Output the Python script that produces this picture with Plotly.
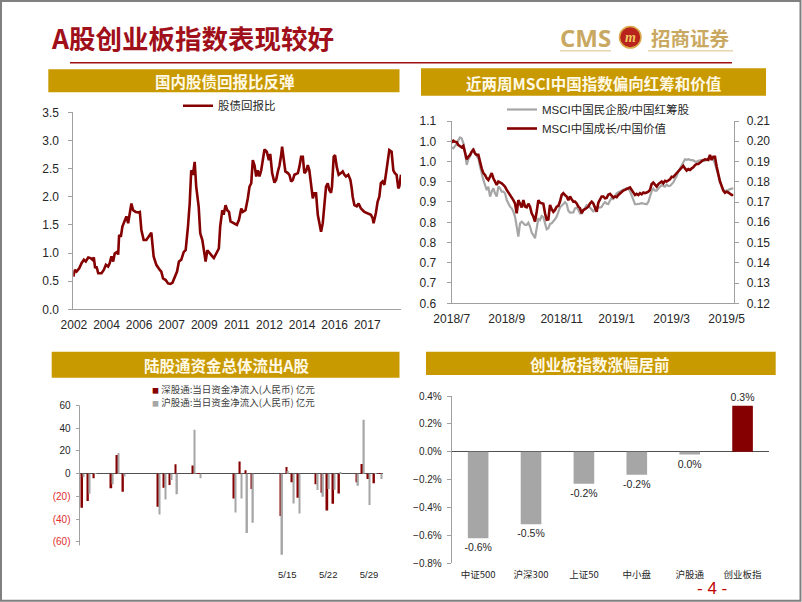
import plotly.graph_objects as go

W, H = 802, 602
def fx(p): return p / W
def fy(p): return 1 - p / H

# ---------------- Chart 1: 股债回报比 ----------------
years1 = [2002.57, 2002.65, 2002.74, 2002.88, 2003.00, 2003.12, 2003.22, 2003.35, 2003.47, 2003.57,
          2003.64, 2003.71, 2003.78, 2003.87, 2004.04, 2004.16, 2004.27, 2004.39, 2004.47, 2004.56,
          2004.65, 2004.73, 2004.86, 2004.91, 2004.96, 2005.05, 2005.13, 2005.25, 2005.34, 2005.43,
          2005.51, 2005.60, 2005.69, 2005.83, 2005.95, 2006.04, 2006.12, 2006.24, 2006.38, 2006.52,
          2006.64, 2006.76, 2006.90, 2007.08, 2007.16, 2007.25, 2007.39, 2007.51, 2007.63, 2007.74,
          2007.81, 2007.91, 2007.98, 2008.08, 2008.20, 2008.33, 2008.43, 2008.55, 2008.64, 2008.72,
          2008.81, 2008.90, 2008.98, 2009.11, 2009.19, 2009.30, 2009.38, 2009.47, 2009.56, 2009.68,
          2009.82, 2009.90, 2010.03, 2010.16, 2010.23, 2010.34, 2010.41, 2010.51, 2010.60, 2010.69,
          2010.77, 2010.93, 2011.10, 2011.21, 2011.33, 2011.41, 2011.55, 2011.67, 2011.76, 2011.85,
          2011.93, 2012.02, 2012.11, 2012.19, 2012.28, 2012.37, 2012.45, 2012.54, 2012.66, 2012.77,
          2012.84, 2012.94, 2013.06, 2013.15, 2013.24, 2013.32, 2013.41, 2013.46, 2013.55, 2013.63,
          2013.76, 2013.84, 2013.93, 2014.02, 2014.10, 2014.28, 2014.36, 2014.45, 2014.54, 2014.62,
          2014.71, 2014.80, 2014.88, 2014.97, 2015.06, 2015.14, 2015.23, 2015.32, 2015.40, 2015.49,
          2015.58, 2015.66, 2015.75, 2015.84, 2015.92, 2016.01, 2016.06, 2016.15, 2016.22, 2016.31,
          2016.41, 2016.53, 2016.62, 2016.71, 2016.79, 2016.91, 2017.02, 2017.09, 2017.14, 2017.23,
          2017.35, 2017.45, 2017.57, 2017.75, 2017.92, 2018.09, 2018.18, 2018.23, 2018.35, 2018.44,
          2018.53, 2018.61, 2018.70, 2018.79, 2018.87, 2018.96, 2019.05, 2019.17, 2019.26, 2019.34,
          2019.43, 2019.52, 2019.57, 2019.66]
ratio1 = [0.58, 0.70, 0.67, 0.73, 0.82, 0.88, 0.85, 0.92, 0.91, 0.88,
          0.92, 0.73, 0.76, 0.64, 0.64, 0.70, 0.79, 0.76, 0.82, 0.94,
          0.85, 0.99, 1.02, 0.97, 1.32, 1.29, 1.47, 1.59, 1.65, 1.53,
          1.73, 1.88, 1.76, 1.73, 1.72, 1.73, 1.41, 1.23, 1.23, 1.29,
          1.36, 0.94, 0.79, 0.70, 0.67, 0.55, 0.52, 0.46, 0.45, 0.47,
          0.53, 0.61, 0.67, 0.85, 0.88, 1.02, 1.05, 1.47, 1.88, 2.47,
          2.39, 2.62, 2.18, 1.82, 1.35, 1.23, 1.05, 0.85, 1.05, 0.99,
          0.94, 0.91, 0.99, 1.08, 1.47, 1.76, 1.68, 1.85, 1.76, 1.73,
          1.56, 1.53, 1.50, 1.59, 1.79, 1.73, 1.76, 1.97, 2.18, 2.24,
          2.65, 2.56, 2.36, 2.47, 2.36, 2.47, 2.62, 2.84, 2.80, 2.65,
          2.76, 2.42, 2.25, 2.30, 2.45, 2.55, 2.74, 2.89, 2.65, 2.45,
          2.42, 2.39, 2.27, 2.30, 2.39, 2.42, 2.53, 2.71, 2.71, 2.42,
          2.45, 2.56, 2.47, 2.24, 1.97, 2.06, 2.06, 1.68, 1.50, 1.38,
          1.53, 1.82, 2.18, 2.24, 2.12, 2.07, 2.18, 2.71, 2.74, 2.53,
          2.39, 2.42, 2.45, 2.39, 2.36, 2.39, 2.30, 2.15, 2.00, 1.85,
          1.83, 1.88, 1.79, 1.73, 1.71, 1.68, 1.62, 1.53, 1.71, 1.91,
          2.00, 2.24, 2.27, 2.21, 2.39, 2.62, 2.83, 2.80, 2.47, 2.42,
          2.39, 2.15, 2.18, 2.39]
ticks1_pos = [2002.6, 2004.3, 2006.0, 2007.7, 2009.4, 2011.1, 2012.8, 2014.5, 2016.2, 2017.9]
ticks1_text = ["2002", "2004", "2006", "2007", "2009", "2011", "2012", "2014", "2016", "2017"]

# ---------------- Chart 2: MSCI ratios ----------------
red2 = [1.041, 1.046, 1.043, 1.042, 1.034, 1.032, 1.028, 1.032, 1.016, 0.995,
        1.002, 1.007, 1.016, 1.021, 1.011, 1.007, 1.007, 0.984, 0.970, 0.957,
        0.952, 0.943, 0.938, 0.947, 0.957, 0.943, 0.934, 0.925, 0.934, 0.932,
        0.929, 0.925, 0.920, 0.911, 0.904, 0.899, 0.893, 0.883, 0.874, 0.847,
        0.883, 0.870, 0.863, 0.883, 0.865, 0.863, 0.873, 0.865, 0.847, 0.838,
        0.824, 0.851, 0.883, 0.876, 0.874, 0.873, 0.847, 0.829, 0.830, 0.870,
        0.858, 0.851, 0.856, 0.865, 0.867, 0.879, 0.897, 0.902, 0.897, 0.893,
        0.883, 0.893, 0.885, 0.879, 0.879, 0.874, 0.865, 0.861, 0.847, 0.856,
        0.858, 0.861, 0.865, 0.874, 0.879, 0.874, 0.861, 0.851, 0.876, 0.885,
        0.893, 0.893, 0.888, 0.889, 0.898, 0.900, 0.894, 0.890, 0.893, 0.891,
        0.897, 0.902, 0.905, 0.909, 0.911, 0.913, 0.915, 0.918, 0.911, 0.902,
        0.897, 0.900, 0.897, 0.902, 0.899, 0.904, 0.902, 0.904, 0.906, 0.911,
        0.927, 0.931, 0.925, 0.920, 0.927, 0.931, 0.934, 0.929, 0.936, 0.934,
        0.936, 0.940, 0.947, 0.946, 0.952, 0.957, 0.961, 0.968, 0.973, 0.977,
        0.970, 0.964, 0.968, 0.966, 0.970, 0.973, 0.979, 0.982, 0.982, 0.986,
        0.989, 0.993, 0.995, 0.993, 0.993, 1.007, 0.993, 1.002, 1.002, 0.975,
        0.952, 0.934, 0.922, 0.909, 0.903, 0.906, 0.904, 0.899, 0.897, 0.897]
gray2 = [0.1970, 0.1965, 0.1977, 0.1986, 0.2006, 0.2019, 0.2014, 0.1990, 0.1944, 0.1883,
         0.1911, 0.1924, 0.1949, 0.1965, 0.1940, 0.1924, 0.1916, 0.1875, 0.1834, 0.1809,
         0.1784, 0.1759, 0.1776, 0.1727, 0.1751, 0.1768, 0.1743, 0.1727, 0.1776, 0.1768,
         0.1751, 0.1751, 0.1743, 0.1710, 0.1694, 0.1677, 0.1669, 0.1653, 0.1628, 0.1587,
         0.1529, 0.1595, 0.1603, 0.1595, 0.1587, 0.1587, 0.1598, 0.1579, 0.1549, 0.1537,
         0.1521, 0.1570, 0.1620, 0.1611, 0.1631, 0.1625, 0.1587, 0.1565, 0.1570, 0.1592,
         0.1595, 0.1603, 0.1615, 0.1628, 0.1653, 0.1674, 0.1682, 0.1690, 0.1699, 0.1690,
         0.1657, 0.1648, 0.1648, 0.1649, 0.1669, 0.1672, 0.1661, 0.1644, 0.1644, 0.1656,
         0.1671, 0.1685, 0.1682, 0.1672, 0.1661, 0.1654, 0.1661, 0.1667, 0.1674, 0.1672,
         0.1676, 0.1690, 0.1700, 0.1692, 0.1690, 0.1707, 0.1720, 0.1715, 0.1727, 0.1743,
         0.1748, 0.1751, 0.1756, 0.1761, 0.1764, 0.1768, 0.1764, 0.1754, 0.1735, 0.1707,
         0.1689, 0.1689, 0.1692, 0.1692, 0.1694, 0.1692, 0.1692, 0.1689, 0.1700, 0.1730,
         0.1754, 0.1766, 0.1756, 0.1756, 0.1768, 0.1776, 0.1783, 0.1778, 0.1776, 0.1786,
         0.1779, 0.1779, 0.1787, 0.1797, 0.1812, 0.1827, 0.1850, 0.1866, 0.1881, 0.1899,
         0.1911, 0.1908, 0.1911, 0.1908, 0.1908, 0.1906, 0.1899, 0.1899, 0.1904, 0.1906,
         0.1908, 0.1903, 0.1903, 0.1909, 0.1914, 0.1922, 0.1922, 0.1912, 0.1888, 0.1861,
         0.1825, 0.1796, 0.1776, 0.1761, 0.1753, 0.1758, 0.1759, 0.1764, 0.1768, 0.1768]
idx2 = list(range(len(red2)))
ticks2_pos = [0, 33, 66, 99, 132, 165]
ticks2_text = ["2018/7", "2018/9", "2018/11", "2019/1", "2019/3", "2019/5"]
ticks2_left = [0.6, 0.656, 0.711, 0.767, 0.822, 0.878, 0.933, 0.989, 1.044, 1.1]

# ---------------- Chart 3: 陆股通 daily net flows ----------------
dates3 = ["2019-04-10", "2019-04-11", "2019-04-12", "2019-04-15", "2019-04-16", "2019-04-17",
          "2019-04-23", "2019-04-24", "2019-04-25", "2019-04-26", "2019-04-29", "2019-04-30",
          "2019-05-06", "2019-05-07", "2019-05-08", "2019-05-09", "2019-05-14", "2019-05-15",
          "2019-05-16", "2019-05-17", "2019-05-20", "2019-05-21", "2019-05-22", "2019-05-23",
          "2019-05-24", "2019-05-27", "2019-05-28", "2019-05-29", "2019-05-30", "2019-05-31"]
sz3 = [-30.0, -24.1, -4.1, -12.9, 16.5, -15.9, -29.1, -12.4, -10.0, 8.2, 7.1, 0.3,
       -21.8, 10.6, 2.9, -13.5, -37.1, 5.9, -7.6, -21.2, -9.4, -16.8, -32.4, -26.5,
       -17.4, -7.6, 8.5, -4.7, -8.5, 0.3]
sh3 = [-3.2, -17.6, 0.3, -9.4, 18.2, -2.4, -35.9, -22.6, -5.6, -18.2, 38.5, -4.1,
       -34.1, -21.8, -52.1, -43.2, -71.2, 2.4, -26.2, -35.0, -14.4, -20.3, -13.5, -14.2,
       0.9, -10.6, 47.4, -27.6, 0.3, -4.7]
ticks3_pos = ["2019-05-15", "2019-05-22", "2019-05-29"]
ticks3_text = ["5/15", "5/22", "5/29"]
yticks3 = [60, 40, 20, 0, -20, -40, -60]
yticks3_text = ["60", "40", "20", "0",
                "<span style='color:#E03030'>(20)</span>",
                "<span style='color:#E03030'>(40)</span>",
                "<span style='color:#E03030'>(60)</span>"]
name3_sz = "深股通:当日资金净流入(人民币) 亿元"
name3_sh = "沪股通:当日资金净流入(人民币) 亿元"

# ---------------- Chart 4: index returns ----------------
cats4 = ["中证500", "沪深300", "上证50", "中小盘", "沪股通", "创业板指"]
vals4 = [-0.62, -0.52, -0.23, -0.165, -0.02, 0.33]
labels4 = ["-0.6%", "-0.5%", "-0.2%", "-0.2%", "0.0%", "0.3%"]

RED = "#850000"
GRAY = "#A6A6A6"
AX = "#A0A0A0"
TXT = "#262626"
LAT = "Liberation Sans, Arial, Noto Sans CJK SC"
CJK = "Noto Sans CJK SC, Liberation Sans"
GOLD = "#C99A00"
DAY = 86400000

fig = go.Figure()
fig.add_trace(go.Scatter(x=years1, y=ratio1, mode="lines", name="股债回报比",
                         line=dict(color=RED, width=2.6), xaxis="x", yaxis="y", legend="legend"))
fig.add_trace(go.Scatter(x=idx2, y=gray2, mode="lines", name="MSCI中国民企股/中国红筹股",
                         line=dict(color=GRAY, width=2.2), xaxis="x2", yaxis="y2", legend="legend2"))
fig.add_trace(go.Scatter(x=idx2, y=red2, mode="lines", name="MSCI中国成长/中国价值",
                         line=dict(color=RED, width=2.6), xaxis="x2", yaxis="y5", legend="legend2"))
fig.add_trace(go.Bar(x=dates3, y=sz3, name=name3_sz, marker=dict(color=RED, line=dict(width=0)),
                     width=0.3 * DAY, offset=-0.3 * DAY, xaxis="x3", yaxis="y3", showlegend=False))
fig.add_trace(go.Bar(x=dates3, y=sh3, name=name3_sh, marker=dict(color=GRAY, line=dict(width=0)),
                     width=0.25 * DAY, offset=0.0, xaxis="x3", yaxis="y3", showlegend=False))
colors4 = [GRAY, GRAY, GRAY, GRAY, GRAY, RED]
fig.add_trace(go.Bar(x=cats4, y=vals4, marker=dict(color=colors4, line=dict(width=0)), width=0.39,
                     text=labels4, textposition="outside", cliponaxis=False, constraintext="none",
                     textfont=dict(family=LAT, size=10.5, color=TXT),
                     xaxis="x4", yaxis="y4", showlegend=False))

common = dict(showgrid=False, zeroline=False, tickcolor=AX, linecolor=AX, linewidth=1, automargin=False)

layout = dict(
    width=W, height=H, margin=dict(l=0, r=0, t=0, b=0, pad=0, autoexpand=False),
    paper_bgcolor="white", plot_bgcolor="rgba(0,0,0,0)",
    showlegend=True, barmode="group",
    font=dict(family=LAT, color=TXT),
    xaxis=dict(domain=[fx(73.3), fx(401)], range=[2002.57, 2019.66], anchor="y",
               tickvals=ticks1_pos, ticktext=ticks1_text, showline=True, ticks="",
               tickfont=dict(size=12), ticklabelstandoff=4, **common),
    yaxis=dict(domain=[fy(309.3), fy(112.3)], range=[0, 3.5], dtick=0.5, tickformat=".1f",
               anchor="x", showline=True, ticks="outside", ticklen=4,
               tickfont=dict(size=12), ticklabelstandoff=7, **common),
    xaxis2=dict(domain=[fx(451.7), fx(734.3)], range=[0, 169.6], anchor="y2",
                tickvals=ticks2_pos, ticktext=ticks2_text, showline=True, ticks="",
                tickfont=dict(size=12), ticklabelstandoff=4, **common),
    yaxis2=dict(domain=[fy(303.3), fy(121)], range=[0.12, 0.21], dtick=0.01, tickformat=".2f",
                side="right", anchor="x2", showline=True, ticks="outside", ticklen=4,
                tickfont=dict(size=12), ticklabelstandoff=5, **common),
    yaxis5=dict(range=[0.6, 1.1], tickvals=ticks2_left, tickformat=".1f", side="left",
                overlaying="y2", anchor="x2", showline=True, ticks="outside", ticklen=4,
                tickfont=dict(size=12), ticklabelstandoff=8, **common),
    xaxis3=dict(type="date", domain=[fx(79.5), fx(383.3)],
                range=["2019-04-09 09:40", "2019-05-31 10:30"], anchor="y3",
                tickvals=ticks3_pos, ticktext=ticks3_text, showline=False, ticks="",
                tickfont=dict(size=9.5), ticklabelstandoff=12, showgrid=False, zeroline=False,
                automargin=False),
    yaxis3=dict(domain=[fy(555.6), fy(403.1)], range=[-72, 62], anchor="x3",
                tickvals=yticks3, ticktext=yticks3_text, showline=False, ticks="outside",
                ticklen=3, tickcolor=AX, tickfont=dict(size=10), ticklabelstandoff=3,
                showgrid=False, zeroline=True, zerolinecolor="#505050", zerolinewidth=1,
                automargin=False),
    xaxis4=dict(domain=[fx(451.7), fx(769)], anchor="y4", showline=False, ticks="",
                tickfont=dict(family=CJK, size=9.5), ticklabelstandoff=4,
                showgrid=False, zeroline=False, automargin=False),
    yaxis4=dict(domain=[fy(563.3), fy(396)], range=[-0.8, 0.4], dtick=0.2, tickformat=".1f",
                ticksuffix="%", anchor="x4", showline=True, linecolor=AX, ticks="outside",
                ticklen=4, tickcolor=AX, tickfont=dict(size=10), ticklabelstandoff=3,
                showgrid=False, zeroline=True, zerolinecolor="#505050", zerolinewidth=1,
                automargin=False),
    legend=dict(x=fx(178), y=fy(105.7), xanchor="left", yanchor="middle",
                bgcolor="rgba(0,0,0,0)", font=dict(family=CJK, size=11.5, color=TXT),
                itemwidth=30, tracegroupgap=0),
    legend2=dict(x=fx(502), y=fy(119), xanchor="left", yanchor="middle",
                 bgcolor="rgba(0,0,0,0)", font=dict(family=LAT, size=11.5, color=TXT),
                 itemwidth=30, tracegroupgap=0),
)
fig.update_layout(**layout)

shapes = []
# slide border
shapes.append(dict(type="rect", xref="paper", yref="paper", x0=fx(1), x1=fx(800.5), y0=fy(600.8), y1=fy(1),
                   line=dict(color="#808080", width=2), fillcolor="rgba(0,0,0,0)", layer="above"))
# red rule under title
shapes.append(dict(type="line", xref="paper", yref="paper", x0=fx(70), x1=fx(732), y0=fy(62.8), y1=fy(62.8),
                   line=dict(color="#A01010", width=1.6)))
# panel header bars
for (x0, x1, y0, y1) in [(48.3, 399.5, 69.3, 92.3), (421, 766, 68.3, 95.7),
                         (51.7, 399.5, 351.7, 377.7), (426, 775.7, 351.7, 375)]:
    shapes.append(dict(type="rect", xref="paper", yref="paper", x0=fx(x0), x1=fx(x1), y0=fy(y1), y1=fy(y0),
                       line=dict(width=0), fillcolor=GOLD, layer="below"))
# logo underlines
for (x0, x1) in [(560, 611), (648, 733)]:
    shapes.append(dict(type="line", xref="paper", yref="paper", x0=fx(x0), x1=fx(x1), y0=fy(50.7), y1=fy(50.7),
                       line=dict(color="#E6D6AE", width=1.5)))
# logo badge
shapes.append(dict(type="circle", xref="paper", yref="paper", x0=fx(619.5), x1=fx(641), y0=fy(48), y1=fy(26.5),
                   fillcolor="#B8241C", line=dict(color="#D9A94A", width=1.5)))
# chart 3 y-axis line
shapes.append(dict(type="line", xref="x3 domain", yref="y3", x0=0, x1=0, y0=-63, y1=60,
                   line=dict(color=AX, width=1)))
fig.update_layout(shapes=shapes)

ann = []
def A(text, x, y, size, color, family=CJK, xanchor="center"):
    ann.append(dict(text=text, x=fx(x), y=fy(y), xref="paper", yref="paper", showarrow=False,
                    xanchor=xanchor, yanchor="middle", font=dict(family=family, size=size, color=color)))

A("<b>A股创业板指数表现较好</b>", 49, 37, 26.5, "#A0101A", xanchor="left")
A("<b>CMS</b>", 585.5, 37.5, 24, "#C9A862", family="Open Sans, Liberation Sans")
A("<b><i>m</i></b>", 630.2, 37, 14, "#F0C860", family="Liberation Serif")
A("<b>招商证券</b>", 690.5, 37.5, 19.5, "#C9A862")
A("<b>国内股债回报比反弹</b>", 225, 80.8, 15.5, "#FFF9E6")
A("<b>近两周MSCI中国指数偏向红筹和价值</b>", 593, 82.5, 15.5, "#FFF9E6")
A("<b>陆股通资金总体流出A股</b>", 226.5, 365, 15.5, "#FFF9E6")
A("<b>创业板指数涨幅居前</b>", 600, 363.5, 15.5, "#FFF9E6")
A("- 4 -", 712, 588.3, 17, "#C00000", family=LAT)
A("<span style='color:" + RED + ";font-size:7px'>■</span> " + name3_sz, 150, 389, 9.5, "#404040", xanchor="left")
A("<span style='color:" + GRAY + ";font-size:7px'>■</span> " + name3_sh, 150, 401.7, 9.5, "#404040", xanchor="left")
fig.update_layout(annotations=ann)

fig.write_html("out.html", config={"displayModeBar": False},
               post_script="document.body.style.margin='0px';document.body.style.overflow='hidden';")
